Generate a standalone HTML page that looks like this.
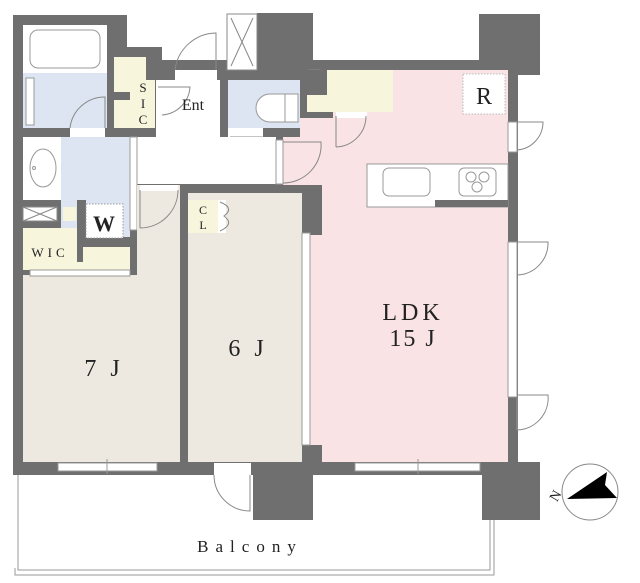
<!DOCTYPE html>
<html><head><meta charset="utf-8"><style>
html,body{margin:0;padding:0;background:#fff;width:640px;height:583px;overflow:hidden}
svg{display:block}
text{font-family:"Liberation Serif",serif;fill:#222}
</style></head><body>
<svg width="640" height="583" viewBox="0 0 640 583" xmlns="http://www.w3.org/2000/svg">
<g fill="#6f6f6f">
<rect x="13" y="60" width="505" height="415"/>
<rect x="13" y="15" width="114" height="50"/>
<rect x="127" y="47" width="35" height="20"/>
<rect x="257" y="13" width="56" height="50"/>
<rect x="479" y="14" width="61" height="61"/>
<rect x="253" y="465" width="60" height="55"/>
<rect x="482" y="462" width="58" height="58"/>
</g>
<rect x="227" y="14" width="30" height="56" fill="#fff" stroke="#888"/>
<path d="M231 18 L253 66 M253 18 L231 66" stroke="#888" fill="none"/>
<rect x="23" y="25" width="84" height="103" fill="#dde5f3"/>
<rect x="23" y="25" width="84" height="48" fill="#fff"/>
<rect x="30" y="30" width="70" height="38" rx="8" fill="none" stroke="#999"/>
<rect x="26" y="78" width="8" height="47" fill="#fff" stroke="#999"/>
<path d="M70 128 A35 35 0 0 1 105 97 L105 128" fill="none" stroke="#888"/>
<rect x="70" y="128" width="35" height="9" fill="#fff"/>
<polygon points="114,57 146,57 146,80 155,80 155,128 114,128 114,100 130,100 130,92 114,92" fill="#f7f5dc"/>
<text x="143" y="92" font-size="13" text-anchor="middle">S</text>
<text x="143" y="108" font-size="13" text-anchor="middle">I</text>
<text x="143" y="124" font-size="13" text-anchor="middle">C</text>
<rect x="156" y="80" width="64" height="57" fill="#fff"/>
<rect x="175" y="70" width="42" height="12" fill="#fff"/>
<path d="M175 70 A42 42 0 0 1 216 33 L216 70" fill="none" stroke="#888"/>
<path d="M158 87 L190 87 A30 30 0 0 1 162 115" fill="none" stroke="#888"/>
<text x="193" y="110" font-size="16" text-anchor="middle">Ent</text>
<rect x="228" y="80" width="72" height="48" fill="#dde5f3"/>
<path d="M285 94 L270 94 A14 14 0 0 0 270 122 L285 122" fill="#fff" stroke="#999"/>
<rect x="285" y="94" width="13" height="28" fill="#fff" stroke="#999"/>
<rect x="228" y="128" width="35" height="9" fill="#fff"/>
<path d="M230 137 L262 137 A32 32 0 0 1 230 165" fill="none" stroke="#888"/>
<rect x="308" y="70" width="12" height="18" fill="#fff" stroke="#888"/>
<path d="M308 70 L320 88 M320 70 L308 88" stroke="#888"/>
<rect x="308" y="119" width="12" height="10" fill="#fff" stroke="#888"/>
<path d="M308 119 L320 129 M320 119 L308 129" stroke="#888"/>
<rect x="137" y="137" width="139" height="47" fill="#fff"/>
<polygon points="283,137 300,137 300,118 333,118 333,70 508,70 508,462 310,462 310,185 283,185" fill="#fae3e4"/>
<rect x="302" y="185" width="20" height="50" fill="#6f6f6f"/>
<rect x="302" y="445" width="20" height="18" fill="#6f6f6f"/>
<rect x="306" y="70" width="87" height="42" fill="#6f6f6f"/>
<polygon points="327,70 393,70 393,112 307,112 307,95 327,95" fill="#f7f5dc"/>
<rect x="276" y="140" width="7" height="44" fill="#fff" stroke="#999"/>
<path d="M283 183 A38 38 0 0 0 321 142 L283 142" fill="none" stroke="#888"/>
<rect x="336" y="112" width="31" height="6" fill="#fff"/>
<path d="M336 147 A31 31 0 0 0 366 116" fill="none" stroke="#888"/>
<line x1="336" y1="116" x2="336" y2="147" stroke="#888"/>
<rect x="463" y="74" width="42" height="40" fill="#fff" stroke="#bbb" stroke-dasharray="1.5,1.5"/>
<text x="484" y="104" font-size="24" text-anchor="middle">R</text>
<rect x="367" y="164" width="141" height="43" fill="#fff" stroke="#999"/>
<rect x="435" y="200" width="73" height="7" fill="#6f6f6f"/>
<rect x="383" y="168" width="47" height="28" rx="6" fill="none" stroke="#999"/>
<rect x="459" y="168" width="37" height="28" rx="5" fill="none" stroke="#999"/>
<circle cx="471" cy="177" r="5" fill="none" stroke="#999"/><circle cx="484" cy="177" r="5" fill="none" stroke="#999"/><circle cx="477" cy="187" r="5" fill="none" stroke="#999"/>
<text x="413" y="320" font-size="24" text-anchor="middle" letter-spacing="4">LDK</text>
<text x="413" y="346" font-size="24" text-anchor="middle" letter-spacing="2">15 J</text>
<rect x="508" y="122" width="9" height="30" fill="#fff" stroke="#999"/>
<path d="M517 122 L543 122 A28 28 0 0 1 517 150" fill="none" stroke="#888"/>
<rect x="508" y="242" width="9" height="155" fill="#fff" stroke="#999"/>
<path d="M517 242 L548 242 A32 32 0 0 1 517 275" fill="none" stroke="#888"/>
<path d="M517 395 L548 395 A32 32 0 0 1 517 430" fill="none" stroke="#888"/>
<line x1="517" y1="430" x2="517" y2="398" stroke="#999"/>
<rect x="23" y="137" width="38" height="63" fill="#fff"/>
<rect x="61" y="137" width="69" height="100" fill="#dde5f3"/>
<ellipse cx="43" cy="168" rx="13" ry="19" fill="none" stroke="#999"/>
<circle cx="34" cy="168" r="1.5" fill="none" stroke="#999"/>
<rect x="23" y="207" width="34" height="14" fill="#fff" stroke="#888"/>
<path d="M23 207 L57 221 M57 207 L23 221" stroke="#888"/>
<rect x="63" y="207" width="13" height="14" fill="#f7f5dc"/>
<rect x="77" y="200" width="9" height="37" fill="#6f6f6f"/>
<rect x="86" y="204" width="37" height="34" fill="#fff" stroke="#999" stroke-dasharray="1.5,1.5"/>
<text x="104" y="231" font-size="22" font-weight="bold" text-anchor="middle">W</text>
<rect x="130" y="137" width="7" height="93" fill="#fff" stroke="#999"/>
<polygon points="23,228 77,228 77,262 83,262 83,247 130,247 130,270 23,270" fill="#f7f5dc"/>
<text x="50" y="257" font-size="13" text-anchor="middle" letter-spacing="4">WIC</text>
<polygon points="137,185 180,185 180,462 23,462 23,275 137,275" fill="#ede9e0"/>
<rect x="30" y="270" width="100" height="6" fill="#fff" stroke="#999"/>
<rect x="140" y="185" width="38" height="6" fill="#fff"/>
<path d="M140 228 A38 38 0 0 0 178 190" fill="none" stroke="#888"/>
<line x1="140" y1="190" x2="140" y2="228" stroke="#888"/>
<text x="104" y="376" font-size="24" text-anchor="middle" letter-spacing="4">7 J</text>
<rect x="188" y="193" width="114" height="269" fill="#ede9e0"/>
<rect x="188" y="200" width="30" height="33" fill="#f7f5dc"/>
<rect x="218" y="200" width="8" height="33" fill="#fff"/>
<path d="M220 202 Q235 208 224 216 Q235 224 220 231" fill="none" stroke="#888"/>
<text x="203" y="214" font-size="12" text-anchor="middle">C</text>
<text x="203" y="229" font-size="12" text-anchor="middle">L</text>
<rect x="302" y="233" width="8" height="212" fill="#fff" stroke="#999"/>
<text x="248" y="356" font-size="24" text-anchor="middle" letter-spacing="4">6 J</text>
<rect x="58" y="463" width="99" height="8" fill="#fff" stroke="#999"/>
<line x1="107" y1="459" x2="107" y2="474" stroke="#999"/>
<rect x="355" y="463" width="125" height="8" fill="#fff" stroke="#999"/>
<line x1="418" y1="459" x2="418" y2="474" stroke="#999"/>
<rect x="214" y="463" width="37" height="12" fill="#fff"/>
<path d="M214 475 A36 36 0 0 0 250 511 L250 475" fill="none" stroke="#888"/>
<path d="M18 475 L18 570 L490 570 L490 520" fill="none" stroke="#999" stroke-width="1"/>
<path d="M15 568 L15 575 L494 575 L494 520" fill="none" stroke="#999" stroke-width="1"/>
<text x="250" y="552" font-size="17" text-anchor="middle" letter-spacing="7">Balcony</text>
<circle cx="590" cy="492" r="28" fill="#fff" stroke="#888"/>
<polygon points="567,499 607,472 605,485 617,498" fill="#000"/>
<text x="556" y="500" font-size="14" text-anchor="middle" transform="rotate(-60 556 496)">N</text>
</svg>
</body></html>
